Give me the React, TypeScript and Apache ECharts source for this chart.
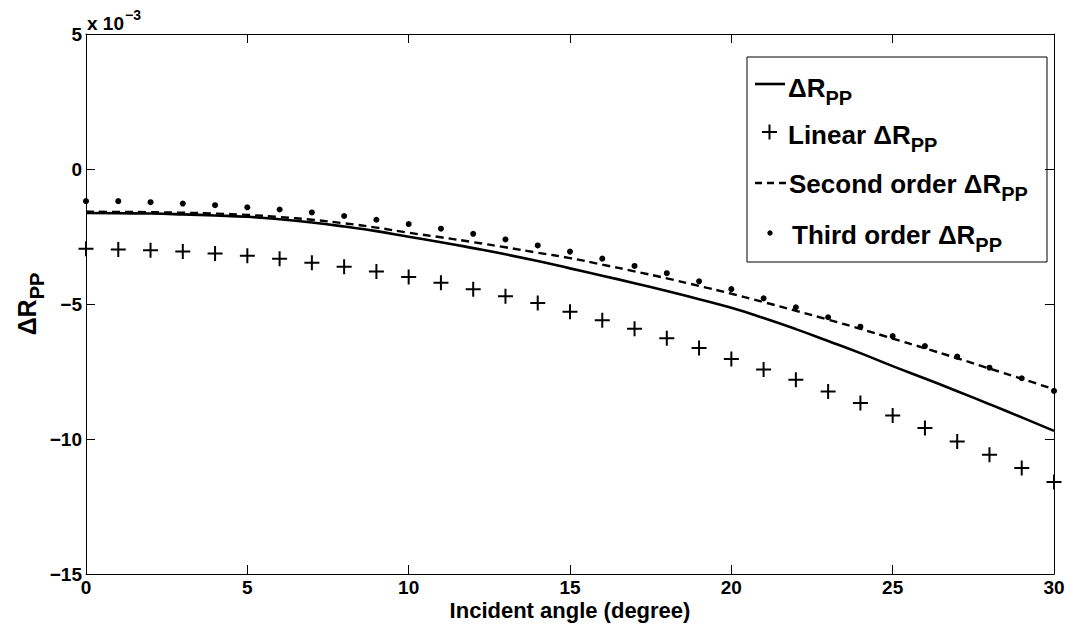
import React, { useEffect, useRef } from "react";
import * as echarts from "echarts";

// Incident angle (degree)
const angles = [0, 1, 2, 3, 4, 5, 6, 7, 8, 9, 10, 11, 12, 13, 14, 15, 16, 17, 18, 19, 20, 21, 22, 23, 24, 25, 26, 27, 28, 29, 30];
// Values in units of 10^-3
const exactR = [-1.63, -1.64, -1.65, -1.68, -1.72, -1.77, -1.86, -1.98, -2.13, -2.30, -2.51, -2.71, -2.93, -3.16, -3.41, -3.68, -3.95, -4.23, -4.52, -4.82, -5.14, -5.52, -5.93, -6.37, -6.82, -7.30, -7.76, -8.23, -8.71, -9.20, -9.70];
const linearR = [-2.95, -2.98, -3.01, -3.06, -3.13, -3.21, -3.32, -3.47, -3.62, -3.80, -4.00, -4.21, -4.45, -4.71, -4.96, -5.29, -5.60, -5.92, -6.27, -6.63, -7.04, -7.43, -7.81, -8.24, -8.67, -9.13, -9.59, -10.09, -10.58, -11.07, -11.59];
const secondR = [-1.58, -1.59, -1.60, -1.62, -1.65, -1.70, -1.78, -1.88, -2.01, -2.17, -2.36, -2.53, -2.71, -2.90, -3.10, -3.30, -3.54, -3.79, -4.05, -4.33, -4.62, -4.93, -5.25, -5.58, -5.92, -6.28, -6.64, -7.01, -7.39, -7.77, -8.16];
const thirdR = [-1.19, -1.19, -1.23, -1.28, -1.34, -1.42, -1.50, -1.61, -1.74, -1.88, -2.04, -2.21, -2.40, -2.61, -2.83, -3.06, -3.32, -3.59, -3.86, -4.16, -4.45, -4.79, -5.12, -5.49, -5.84, -6.19, -6.56, -6.95, -7.36, -7.75, -8.22];

const xTicks = [0, 5, 10, 15, 20, 25, 30];
const yTicks = [-15, -10, -5, 0, 5];
const legendNames = ["ΔR", "Linear ΔR", "Second order ΔR", "Third order ΔR"];
const subscript = "PP";
const xLabel = "Incident angle (degree)";
const scaleMain = "x 10";
const scaleExp = "−3";

const FONT = "'Liberation Sans', Arial, Helvetica, sans-serif";
const PLUS = "path://M6.5,0H8.5V6.5H15V8.5H8.5V15H6.5V8.5H0V6.5H6.5Z";

const pairs = (ys: number[]) => angles.map((a, i) => [a, ys[i]]);

export default function App() {
  const ref = useRef<HTMLDivElement>(null);
  useEffect(() => {
    if (!ref.current) return;
    const chart = echarts.init(ref.current, undefined, { renderer: "svg" });
    const tickLabel = {
      color: "#000",
      fontSize: 19,
      lineHeight: 19,
      fontWeight: "bold" as const,
      fontFamily: FONT,
    };
    const line = { lineStyle: { color: "#000", width: 1 } };
    const richLabel = (main: number, sub: number, pad: number) => ({
      a: { fontSize: main, fontWeight: "bold", fontFamily: FONT, color: "#000", lineHeight: main + 3, verticalAlign: "middle" },
      s: { fontSize: sub, fontWeight: "bold", fontFamily: FONT, color: "#000", lineHeight: sub, padding: [pad, 0, 0, 0], verticalAlign: "middle" },
    });
    const lx = 747, ly = 57, lw = 300, lh = 205;
    const rows = [84, 131, 180, 231];
    const textX = [788, 788, 789, 792];
    const legendText = (i: number) => ({
      type: "text",
      style: {
        text: `{a|${legendNames[i]}}{s|${subscript}}`,
        x: textX[i],
        y: rows[i] + 4,
        verticalAlign: "middle",
        fontSize: 26,
        fontWeight: "bold",
        fontFamily: FONT,
        rich: richLabel(26, 20, 20),
      },
    });
    chart.setOption({
      animation: false,
      backgroundColor: "#fff",
      grid: { left: 86, right: 13, top: 34, bottom: 50, containLabel: false, outerBoundsMode: "none" },
      xAxis: [
        {
          type: "value",
          min: xTicks[0],
          max: xTicks[xTicks.length - 1],
          interval: 5,
          position: "bottom",
          axisLine: { show: true, onZero: false, ...line },
          axisTick: { show: true, inside: true, length: 9, ...line },
          axisLabel: { ...tickLabel, margin: 4 },
          splitLine: { show: false },
          name: xLabel,
          nameLocation: "middle",
          nameGap: 26,
          nameMoveOverlap: false,
          nameTextStyle: { color: "#000", fontSize: 22, lineHeight: 21, fontWeight: "bold", fontFamily: FONT, verticalAlign: "top" },
        },
        {
          type: "value",
          min: xTicks[0],
          max: xTicks[xTicks.length - 1],
          interval: 5,
          position: "top",
          axisLine: { show: true, onZero: false, ...line },
          axisTick: { show: true, inside: true, length: 9, ...line },
          axisLabel: { show: false },
          splitLine: { show: false },
        },
      ],
      yAxis: [
        {
          type: "value",
          min: yTicks[0],
          max: yTicks[yTicks.length - 1],
          interval: 5,
          position: "left",
          axisLine: { show: true, onZero: false, ...line },
          axisTick: { show: true, inside: true, length: 9, ...line },
          axisLabel: {
            ...tickLabel,
            margin: 4,
            formatter: (v: number) => (v < 0 ? "−" + Math.abs(v) : String(v)),
          },
          splitLine: { show: false },
          name: `{a|ΔR}{s|${subscript}}`,
          nameLocation: "middle",
          nameRotate: 90,
          nameGap: 45,
          nameMoveOverlap: false,
          nameTextStyle: { fontSize: 25, fontWeight: "bold", fontFamily: FONT, rich: richLabel(25, 20, 19) },
        },
        {
          type: "value",
          min: yTicks[0],
          max: yTicks[yTicks.length - 1],
          interval: 5,
          position: "right",
          axisLine: { show: true, onZero: false, ...line },
          axisTick: { show: true, inside: true, length: 9, ...line },
          axisLabel: { show: false },
          splitLine: { show: false },
        },
      ],
      series: [
        {
          name: "ΔR_PP",
          type: "line",
          data: pairs(exactR),
          smooth: true,
          symbol: "none",
          lineStyle: { color: "#000", width: 2.6 },
          z: 3,
        },
        {
          name: "Linear ΔR_PP",
          type: "scatter",
          data: pairs(linearR),
          symbol: PLUS,
          symbolSize: 15,
          symbolKeepAspect: true,
          itemStyle: { color: "#000", opacity: 1 },
          z: 3,
        },
        {
          name: "Second order ΔR_PP",
          type: "line",
          data: pairs(secondR),
          smooth: true,
          symbol: "none",
          lineStyle: { color: "#000", width: 2.4, type: [8, 5] },
          z: 4,
        },
        {
          name: "Third order ΔR_PP",
          type: "scatter",
          data: pairs(thirdR),
          symbol: "circle",
          symbolSize: 6,
          itemStyle: { color: "#000", opacity: 1 },
          z: 5,
        },
      ],
      graphic: [
        {
          type: "text",
          style: { text: scaleMain, x: 87, y: 33, verticalAlign: "bottom", fontSize: 19, fontWeight: "bold", fontFamily: FONT, fill: "#000" },
        },
        {
          type: "text",
          style: { text: scaleExp, x: 125, y: 22, verticalAlign: "bottom", fontSize: 14, fontWeight: "bold", fontFamily: FONT, fill: "#000" },
        },
        {
          type: "group",
          z: 100,
          children: [
            { type: "rect", shape: { x: lx, y: ly, width: lw, height: lh }, style: { fill: "#fff", stroke: "#000", lineWidth: 1 } },
            { type: "line", shape: { x1: 755, y1: rows[0], x2: 785, y2: rows[0] }, style: { stroke: "#000", lineWidth: 2.6 } },
            legendText(0),
            { type: "line", shape: { x1: 762, y1: rows[1] + 1, x2: 777, y2: rows[1] + 1 }, style: { stroke: "#000", lineWidth: 2 } },
            { type: "line", shape: { x1: 769.5, y1: rows[1] - 6.5, x2: 769.5, y2: rows[1] + 8.5 }, style: { stroke: "#000", lineWidth: 2 } },
            legendText(1),
            { type: "line", shape: { x1: 755, y1: rows[2] + 3, x2: 788, y2: rows[2] + 3 }, style: { stroke: "#000", lineWidth: 2.4, lineDash: [7, 5] } },
            legendText(2),
            { type: "circle", shape: { cx: 770, cy: rows[3] + 2, r: 2.7 }, style: { fill: "#000" } },
            legendText(3),
          ],
        },
      ],
    });
    return () => chart.dispose();
  }, []);
  return <div ref={ref} style={{ position: "fixed", left: 0, top: 0, width: 1067, height: 624, background: "#fff" }} />;
}
